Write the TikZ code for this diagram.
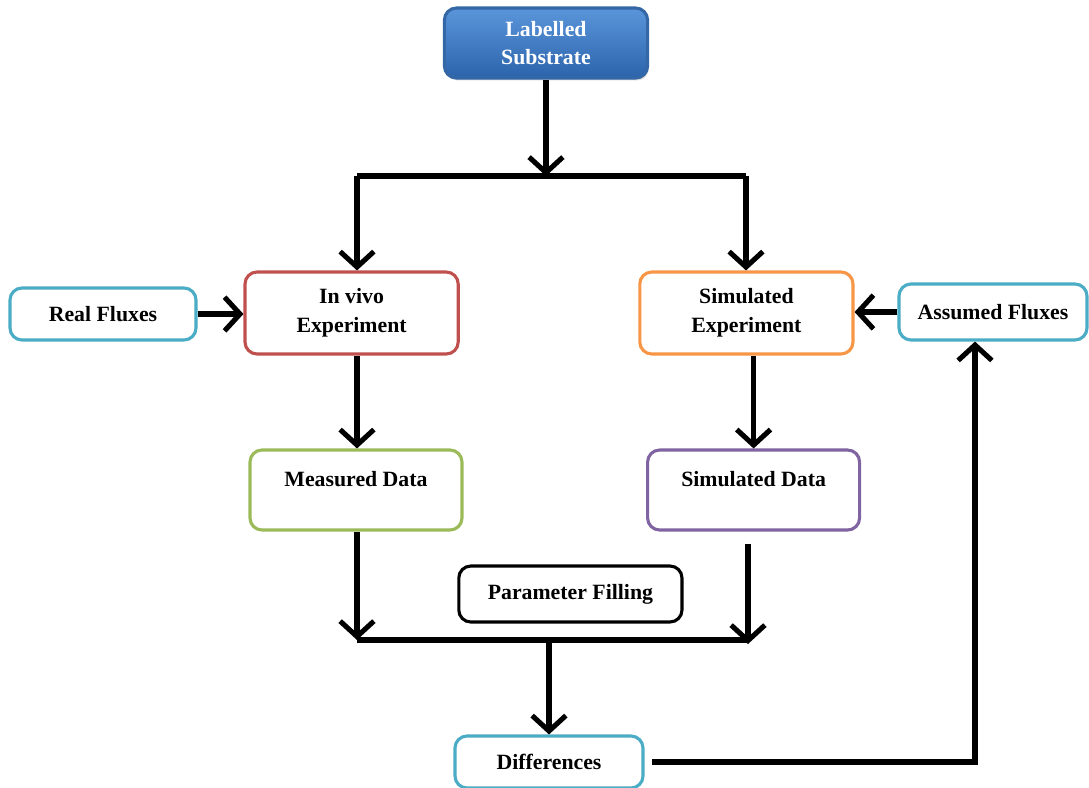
\documentclass[tikz,border=0pt]{standalone}
\usepackage{fontspec}
\setmainfont{Liberation Serif}
\usetikzlibrary{arrows.meta,shadows}

\definecolor{subtop}{HTML}{5A95DA}
\definecolor{subbottom}{HTML}{2C64AC}
\definecolor{subborder}{HTML}{3467A6}
\definecolor{fluxblue}{HTML}{4BACC6}
\definecolor{expred}{HTML}{C0504D}
\definecolor{simorange}{HTML}{F79646}
\definecolor{datagreen}{HTML}{9BBB59}
\definecolor{datapurple}{HTML}{8064A2}

\begin{document}
\begin{tikzpicture}[line width=3.6pt,-{Straight Barb[length=11pt,width=24pt]}]
    \tikzstyle{box}=[draw,rounded corners=0.3cm,line width=2.2pt,fill=white,minimum height=1.3cm,inner sep=0pt,align=center,font=\fontsize{15.5}{20.5}\selectfont\bfseries]
    \tikzstyle{flux box}=[box,draw=fluxblue,minimum width=4.65cm]
    \tikzstyle{exp box}=[box,minimum width=5.33cm,minimum height=2.05cm]
    \tikzstyle{data box}=[box,minimum width=5.3cm,minimum height=2cm,text height=0.4cm,text depth=0.6cm]

    \useasboundingbox (0,0) rectangle (27.225,-19.675);

    % Draw the substrate node
    \node[box,draw=subborder,top color=subtop,bottom color=subbottom,text=white,minimum width=5.08cm,minimum height=1.75cm,drop shadow={opacity=0.3,shadow xshift=0.03cm,shadow yshift=-0.06cm}] (LS) at (13.65,-1.075) {Labelled\\Substrate};

    % Draw the experiment row
    \node[flux box] (RF) at (2.575,-7.85) {Real Fluxes};
    \node[exp box,draw=expred] (IV) at (8.79,-7.825) {In vivo\\Experiment};
    \node[exp box,draw=simorange] (SE) at (18.66,-7.825) {Simulated\\Experiment};
    \node[flux box,minimum width=4.7cm,minimum height=1.4cm] (AF) at (24.825,-7.8) {Assumed Fluxes};

    % Draw the data row
    \node[data box,draw=datagreen] (MD) at (8.9,-12.25) {Measured Data};
    \node[data box,draw=datapurple] (SD) at (18.84,-12.25) {Simulated Data};

    \node[box,minimum width=5.58cm,minimum height=1.4cm] (PF) at (14.26,-14.85) {Parameter Filling};
    \node[flux box,minimum width=4.7cm] (D) at (13.725,-19.05) {Differences};

    % Bus points
    \coordinate (B1) at (8.925,-4.4);
    \coordinate (B2) at (18.65,-4.4);
    \coordinate (B3) at (8.925,-16);
    \coordinate (B4) at (18.7,-16);
    \coordinate (C) at (24.375,-19.075);

    % Split the substrate into both experiments
    \draw (LS) -- (LS |- B1);
    \draw[-] (B1) -- (B2);
    \draw (B1) -- (B1 |- IV.north);
    \draw (B2) -- (B2 |- SE.north);

    % Fluxes into the experiments
    \draw (RF.east) -- (RF.east -| IV.west);
    \draw (AF.west) -- (AF.west -| SE.east);

    % Experiments give data
    \draw (IV.south -| B1) -- (MD.north -| B1);
    \draw (SE.south -| SD) -- (SD.north);

    % Data are compared
    \draw (MD.south -| B3) -- (B3);
    \draw[shorten <=0.3cm] (SD.south -| B4) -- ([yshift=-0.1cm]B4);
    \draw[-] (B3) -- (B4);
    \draw (B3 -| D) -- (D);

    % Differences go back to the assumed fluxes
    \draw[shorten <=0.18cm] (D.east) -- (D.east -| C) -- (C |- AF.south);
\end{tikzpicture}
\end{document}
